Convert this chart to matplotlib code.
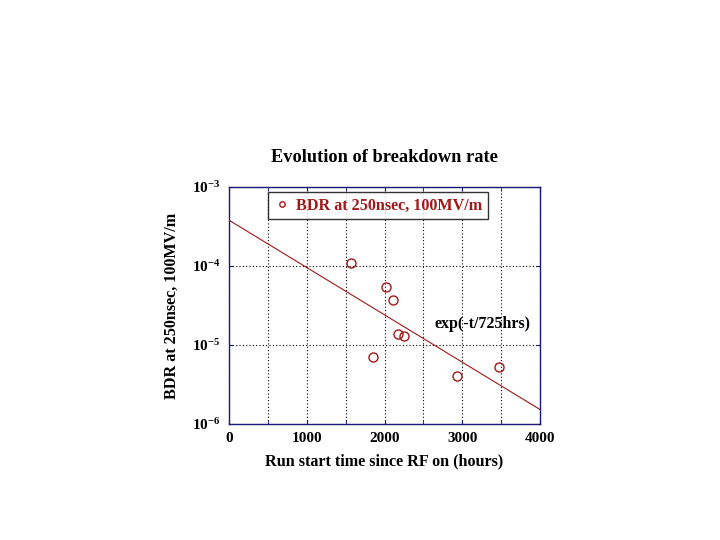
import numpy as np
import matplotlib
matplotlib.use("Agg")
import matplotlib.pyplot as plt
from matplotlib.ticker import MultipleLocator, NullLocator

run_hours = [1569, 2019, 2109, 2174, 2251, 1852, 2932, 3473]
bdr = [1.09e-4, 5.4e-5, 3.7e-5, 1.38e-5, 1.3e-5, 7.0e-6, 4.1e-6, 5.2e-6]
fit_amp = 3.8e-4
fit_tau = 725.0
fit_range = [0, 4000]
x_ticks = [0, 1000, 2000, 3000, 4000]
y_ticks = [1e-6, 1e-5, 1e-4, 1e-3]
y_tick_labels = ["$\\mathbf{10^{-6}}$", "$\\mathbf{10^{-5}}$", "$\\mathbf{10^{-4}}$", "$\\mathbf{10^{-3}}$"]

plt.rcParams['font.family'] = ['Liberation Serif', 'DejaVu Serif']
plt.rcParams['mathtext.fontset'] = 'custom'
plt.rcParams['mathtext.rm'] = 'Liberation Serif'
plt.rcParams['mathtext.bf'] = 'Liberation Serif:bold'

fig = plt.figure(figsize=(7.2, 5.4), dpi=100)
ax = fig.add_axes([229/720, 1-424/540, (540-229)/720, (424-187)/540])

red = '#a01818'
navy = '#1a1a7a'

fx = np.linspace(fit_range[0], fit_range[1], 50)
ax.plot(fx, fit_amp*np.exp(-fx/fit_tau), color=red, lw=0.8, zorder=3)
ax.plot(run_hours, bdr, linestyle='none', marker='o', mfc='none', mec=red,
        markersize=6.5, mew=1.0, label='BDR at 250nsec, 100MV/m', zorder=4)

ax.set_yscale('log')
ax.set_xlim(0, 4000)
ax.set_ylim(1e-6, 1e-3)
ax.set_xticks(x_ticks)
ax.set_xticklabels([str(v) for v in x_ticks], fontweight='bold', fontsize=11)
ax.xaxis.set_minor_locator(MultipleLocator(500))
ax.set_yticks(y_ticks)
ax.set_yticklabels(y_tick_labels, fontsize=11)
ax.yaxis.set_minor_locator(NullLocator())
ax.grid(True, which='both', axis='x', linestyle=(0, (1, 2)), color='black', lw=0.8)
ax.grid(True, which='major', axis='y', linestyle=(0, (1, 2)), color='black', lw=0.8)
ax.tick_params(which='both', direction='in', length=3, color=navy, top=True, right=True, pad=6)
for s in ax.spines.values():
    s.set_color(navy)
    s.set_linewidth(1.0)

ax.set_title('Evolution of breakdown rate', fontsize=13.2, fontweight='bold', pad=18)
ax.set_xlabel('Run start time since RF on (hours)', fontsize=11.6, fontweight='bold', labelpad=6)
ax.set_ylabel('BDR at 250nsec, 100MV/m', fontsize=11.6, fontweight='bold', labelpad=9)

leg = ax.legend(loc='upper left', bbox_to_anchor=(0.125, 0.98), borderaxespad=0, frameon=True,
                fancybox=False, edgecolor='black', handlelength=1.0, handletextpad=0.4,
                borderpad=0.35, markerscale=0.6, prop={'weight': 'bold', 'size': 11.6})
leg.get_frame().set_linewidth(1.0)
for t in leg.get_texts():
    t.set_color(red)

ax.text(3880, 1.85e-5, 'exp(-t/725hrs)', fontsize=11.5, fontweight='bold', ha='right', va='center')

fig.savefig('out.png', dpi=100)
